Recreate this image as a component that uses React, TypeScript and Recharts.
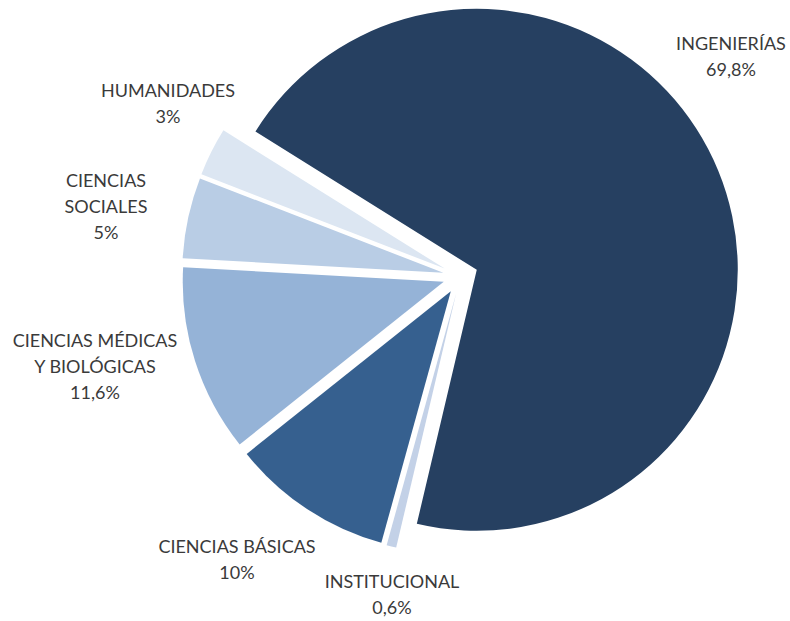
import React from 'react';
import { PieChart, Pie, Cell } from 'recharts';

// ---- data ----
const CATEGORIES = ['INGENIERÍAS', 'INSTITUCIONAL', 'CIENCIAS BÁSICAS', 'CIENCIAS MÉDICAS Y BIOLÓGICAS', 'CIENCIAS SOCIALES', 'HUMANIDADES'];
const VALUES = [69.8, 0.6, 10, 11.6, 5, 3];
const VALUE_LABELS = ['69,8%', '0,6%', '10%', '11,6%', '5%', '3%'];
const LABEL_LINES = [['INGENIERÍAS'], ['INSTITUCIONAL'], ['CIENCIAS BÁSICAS'], ['CIENCIAS MÉDICAS', 'Y BIOLÓGICAS'], ['CIENCIAS', 'SOCIALES'], ['HUMANIDADES']];

// ---- style / layout ----
const COLORS = ['#264061', '#c3d1e7', '#36608f', '#95b3d7', '#b9cde5', '#dce6f2'];
const W = 790;
const H = 621;
const CX = 460.5;
const CY = 276.5;
const R = 261;
const EXPLODE = 17.6;
const START = 148;
const LABEL_POS = [[731, 50], [392, 588], [237, 553], [95, 347], [106, 187], [168, 97]];
const LINE_H = 26;
const FONT = 'Lato, "Open Sans", sans-serif';
const FONT_SIZE = 18;

const data = CATEGORIES.map((name, i) => ({ name, value: VALUES[i] }));
const total = VALUES.reduce((a, b) => a + b, 0);

const offsets = (() => {
  let cum = 0;
  return VALUES.map((v) => {
    const mid = START - (360 * (cum + v / 2)) / total;
    cum += v;
    const rad = (mid * Math.PI) / 180;
    return { dx: EXPLODE * Math.cos(rad), dy: -EXPLODE * Math.sin(rad) };
  });
})();

const makeLabel = (i: number) => (props: any) => {
  if (props.index !== i) return <g />;
  const [x, y] = LABEL_POS[i];
  const lines = [...LABEL_LINES[i], VALUE_LABELS[i]];
  return (
    <text x={x} y={y} textAnchor="middle" fill="#3a3a3a" fontFamily={FONT} fontSize={FONT_SIZE}>
      {lines.map((l, k) => (
        <tspan key={k} x={x} y={y + k * LINE_H}>{l}</tspan>
      ))}
    </text>
  );
};

export default function App() {
  return (
    <div style={{ position: 'absolute', left: 0, top: 0, width: W, height: H, background: '#fff' }}>
      <PieChart width={W} height={H} margin={{ top: 0, right: 0, bottom: 0, left: 0 }}>
        {VALUES.map((_, i) => (
          <Pie
            key={i}
            data={data}
            dataKey="value"
            nameKey="name"
            cx={CX + offsets[i].dx}
            cy={CY + offsets[i].dy}
            innerRadius={0}
            outerRadius={R}
            startAngle={START}
            endAngle={START - 360}
            stroke="none"
            isAnimationActive={false}
            labelLine={false}
            label={makeLabel(i)}
          >
            {data.map((_, j) => (
              <Cell key={j} fill={j === i ? COLORS[j] : 'transparent'} stroke="none" />
            ))}
          </Pie>
        ))}
      </PieChart>
    </div>
  );
}
